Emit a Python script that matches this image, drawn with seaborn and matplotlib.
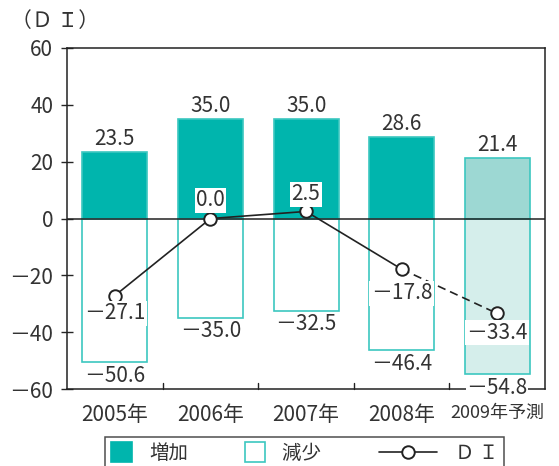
import matplotlib
matplotlib.use('Agg')
import matplotlib.pyplot as plt
import seaborn as sns
import pandas as pd
from matplotlib.patches import Rectangle
from matplotlib.lines import Line2D

# データ
years = ['2005年', '2006年', '2007年', '2008年', '2009年予測']
zouka = [23.5, 35.0, 35.0, 28.6, 21.4]
genshou = [-50.6, -35.0, -32.5, -46.4, -54.8]
di = [-27.1, 0.0, 2.5, -17.8, -33.4]
yticks = [60, 40, 20, 0, -20, -40, -60]

teal = '#00B5AD'
edge = '#3CC7C0'
dark = '#222222'
txt = '#333333'

sns.set_style('white')
plt.rcParams['font.family'] = ['Noto Sans CJK JP', 'DejaVu Sans']

df = pd.DataFrame({'year': years, 'zouka': zouka, 'genshou': genshou, 'di': di})

fig = plt.figure(figsize=(5.59, 4.66), dpi=100)
ax = fig.add_axes([0.12, 0.165, 0.855, 0.732])

pos_colors = [teal, teal, teal, teal, '#9DD8D3']
neg_colors = ['white', 'white', 'white', 'white', '#D5EEEB']
sns.barplot(data=df, x='year', y='zouka', hue='year', palette=pos_colors,
            legend=False, width=0.68, ax=ax, edgecolor=edge, linewidth=1.2, saturation=1)
sns.barplot(data=df, x='year', y='genshou', hue='year', palette=neg_colors,
            legend=False, width=0.68, ax=ax, edgecolor=edge, linewidth=1.2, saturation=1)

# DI：実績は実線、予測は破線
xs = list(range(len(years)))
ax.plot(xs[:4], di[:4], color=dark, lw=1.2, zorder=4)
ax.plot(xs[3:], di[3:], color=dark, lw=1.2, ls=(0, (5, 3)), zorder=4)
ax.plot(xs, di, ls='none', marker='o', ms=9, mfc='white', mec=dark, mew=1.4, zorder=5)

ax.axhline(0, color=dark, lw=1.1, zorder=3)

def fmt(v):
    return ('－%.1f' % -v) if v < 0 else '%.1f' % v

fs = 15
for i, v in enumerate(zouka):
    ax.text(i, v + 4.6, fmt(v), ha='center', va='center', fontsize=fs, color=txt)
for i, v in enumerate(genshou):
    ax.text(i, v - 4.7, fmt(v), ha='center', va='center', fontsize=fs, color=txt,
            bbox=dict(facecolor='white', edgecolor='none', pad=0.5), zorder=6)
di_off = [-6.3, 6.4, 6.1, -8.5, -6.7]
for i, v in enumerate(di):
    ax.text(i, v + di_off[i], fmt(v), ha='center', va='center',
            fontsize=fs, color=txt,
            bbox=dict(facecolor='white', edgecolor='none', pad=1), zorder=6)

ax.set_ylim(-60, 60)
ax.set_xlim(-0.5, 4.5)
ax.set_yticks(yticks)
ax.set_yticklabels([fmt(t).replace('.0', '') for t in yticks], fontsize=fs, color=txt)
ax.set_xticks(xs)
ax.set_xticklabels(years, fontsize=fs, color=txt)
ax.get_xticklabels()[-1].set_fontsize(13)
ax.tick_params(axis='x', length=0, pad=11)
ax.tick_params(axis='y', direction='inout', length=8, width=1, left=True, pad=6)
for b in [0.5, 1.5, 2.5, 3.5]:
    ax.plot([b, b], [-60, -58], color=dark, lw=1, clip_on=False)
ax.set_xlabel('')
ax.set_ylabel('')
for s in ax.spines.values():
    s.set_color(dark)
    s.set_linewidth(1.1)

fig.text(0.02, 0.955, '（Ｄ Ｉ）', fontsize=15, color=txt, va='center')


class DILine:
    # 凡例の線を左へ伸ばして描く
    def legend_artist(self, legend, orig_handle, fontsize, handlebox):
        w, h = handlebox.width, handlebox.height
        x0, y0 = -handlebox.xdescent, -handlebox.ydescent
        L = 42
        ln = Line2D([x0 + w - L, x0 + w], [y0 + h / 2] * 2, color=dark, lw=1.2)
        mk = Line2D([x0 + w - L / 2], [y0 + h / 2], ls='none', marker='o', ms=9,
                    mfc='white', mec=dark, mew=1.4)
        handlebox.add_artist(ln)
        handlebox.add_artist(mk)
        return ln


class Square:
    def __init__(self, fc):
        self.fc = fc

    def legend_artist(self, legend, orig_handle, fontsize, handlebox):
        w, h = handlebox.width, handlebox.height
        x0, y0 = -handlebox.xdescent, -handlebox.ydescent
        s = 14.5
        r = Rectangle((x0 + w - s, y0 + (h - s) / 2), s, s, facecolor=self.fc,
                      edgecolor=edge if self.fc == 'white' else teal, lw=1.2)
        handlebox.add_artist(r)
        return r


h1, h2, h3 = object(), object(), object()
leg = fig.legend([h1, h2, h3], ['増加', '減少　　', 'Ｄ Ｉ'], loc='upper center', ncol=3,
                 bbox_to_anchor=(0.545, 0.0622), frameon=True, fancybox=False,
                 fontsize=14, handlelength=1.05, handleheight=1.0, columnspacing=2.9,
                 handletextpad=0.9, borderpad=0.3, borderaxespad=0,
                 handler_map={h1: Square(teal), h2: Square('white'), h3: DILine()})
for t in leg.get_texts():
    t.set_color(txt)
leg.get_frame().set_edgecolor(dark)
leg.get_frame().set_linewidth(1.1)

fig.savefig('out.png', dpi=100)
